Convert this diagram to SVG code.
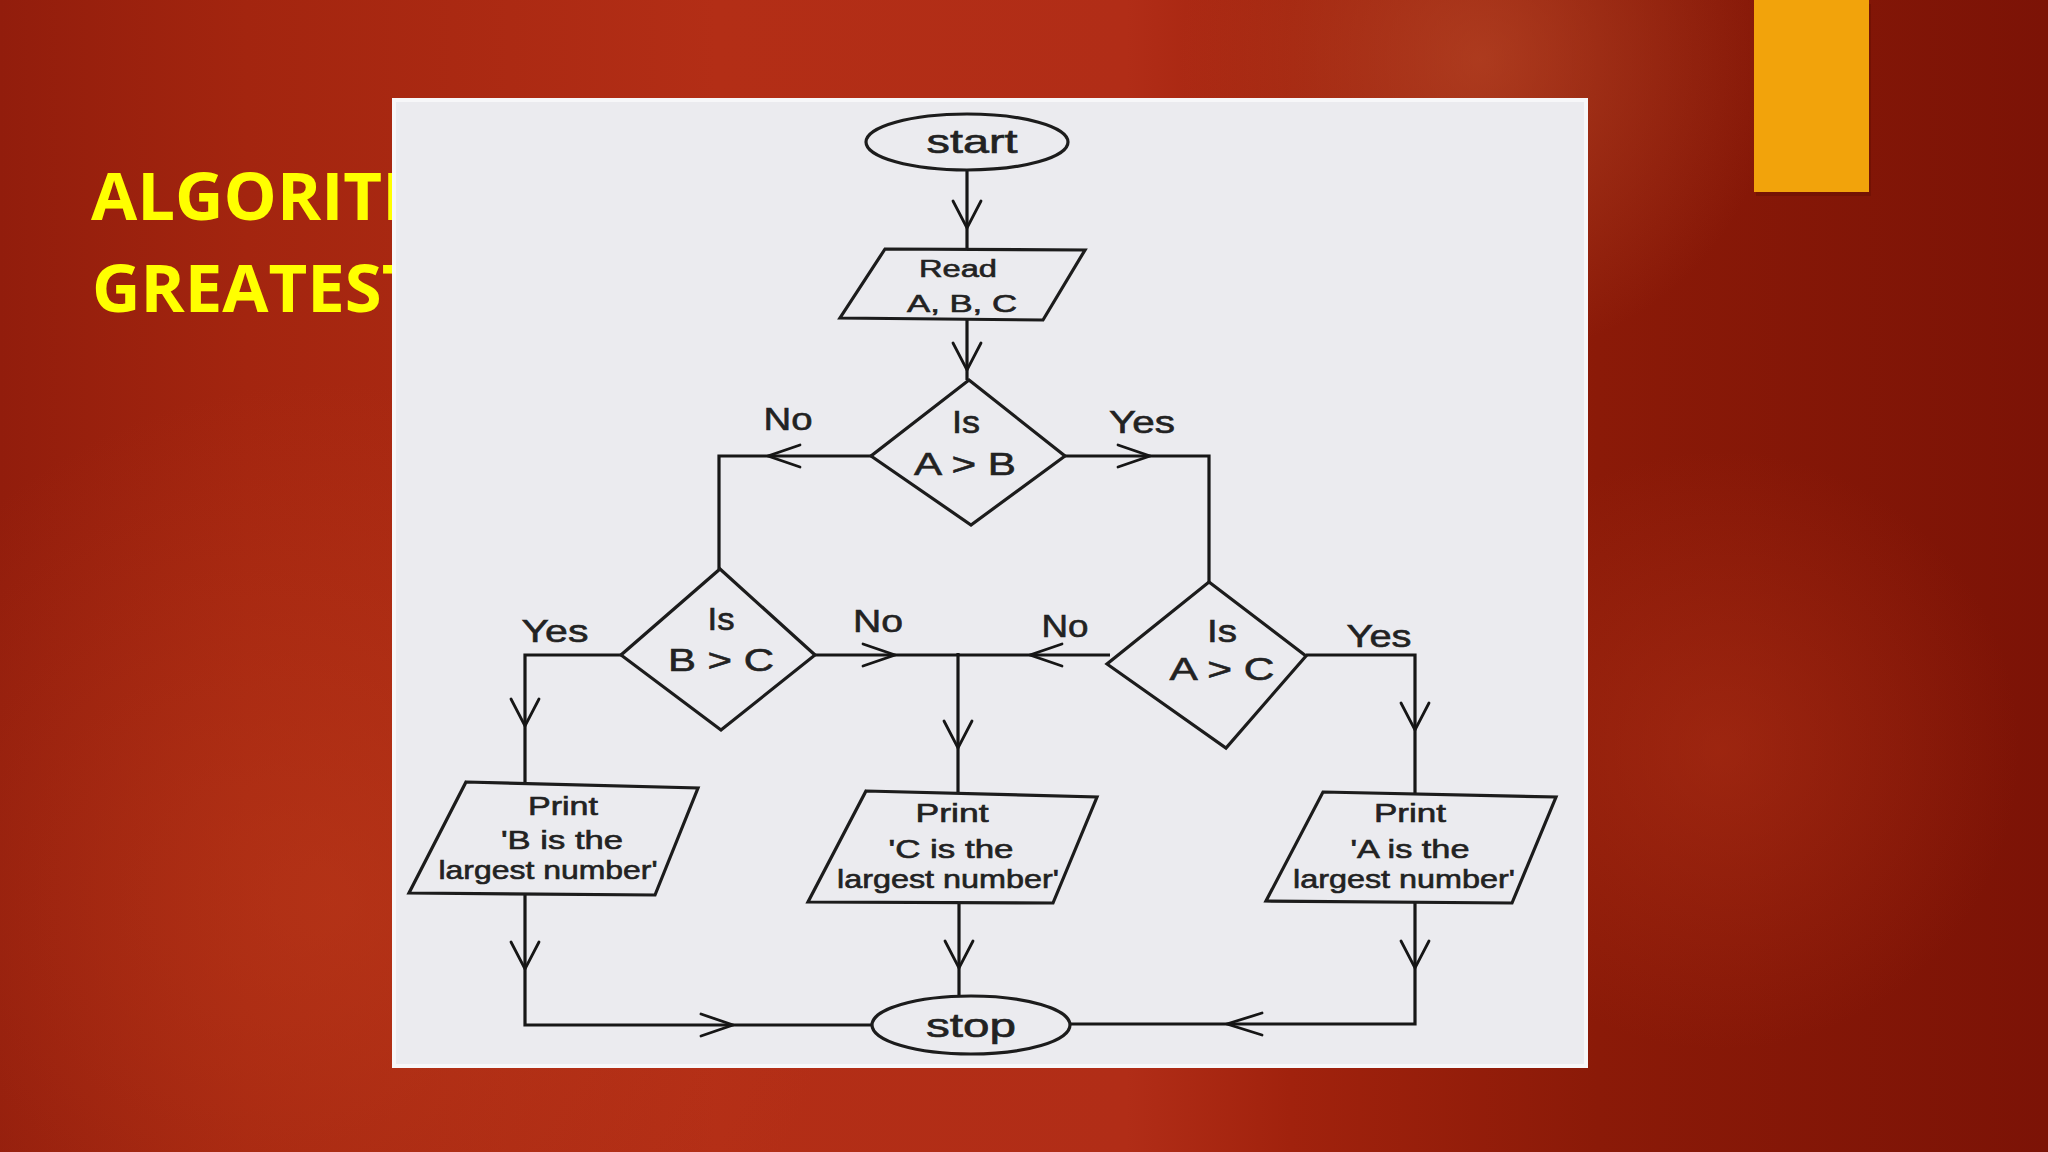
<svg xmlns="http://www.w3.org/2000/svg" width="2048" height="1152" viewBox="0 0 2048 1152">
  <defs>
    <linearGradient id="bg" x1="0" y1="0" x2="1" y2="0">
      <stop offset="0" stop-color="#921d0c"/>
      <stop offset="0.12" stop-color="#a3250f"/>
      <stop offset="0.35" stop-color="#b32e16"/>
      <stop offset="0.55" stop-color="#b12d17"/>
      <stop offset="0.63" stop-color="#a1220d"/>
      <stop offset="0.78" stop-color="#8b1a08"/>
      <stop offset="1" stop-color="#7c1306"/>
    </linearGradient>
    <radialGradient id="glow1" cx="1480" cy="60" r="300" gradientUnits="userSpaceOnUse">
      <stop offset="0" stop-color="#c2532f" stop-opacity="0.55"/>
      <stop offset="1" stop-color="#c2532f" stop-opacity="0"/>
    </radialGradient>
    <radialGradient id="glow2" cx="330" cy="900" r="520" gradientUnits="userSpaceOnUse">
      <stop offset="0" stop-color="#c4401e" stop-opacity="0.45"/>
      <stop offset="1" stop-color="#c4401e" stop-opacity="0"/>
    </radialGradient>
    <radialGradient id="glow3" cx="1720" cy="750" r="300" gradientUnits="userSpaceOnUse">
      <stop offset="0" stop-color="#b8361a" stop-opacity="0.45"/>
      <stop offset="1" stop-color="#b8361a" stop-opacity="0"/>
    </radialGradient>
    <style>
      .title { font-family: "Open Sans", "Noto Sans", sans-serif; font-weight: 700; font-size: 67px; fill: #ffff00; }
      .shape { fill: none; stroke: #1c1c1c; stroke-width: 3.2; stroke-linejoin: miter; }
      .line { fill: none; stroke: #161616; stroke-width: 3.2; }
      .chev { fill: none; stroke: #161616; stroke-width: 2.8; stroke-linecap: round; stroke-linejoin: miter; }
      .t { font-family: "Liberation Sans", Arial, sans-serif; fill: #222222; stroke: #222222; stroke-width: 0.6; text-anchor: middle; }
      .big { font-size: 33px; }
      .mid { font-size: 32px; }
      .sm { font-size: 25px; }
      .rd { font-size: 23px; }
    </style>
  </defs>

  <!-- background -->
  <rect x="0" y="0" width="2048" height="1152" fill="url(#bg)"/>
  <rect x="0" y="0" width="2048" height="1152" fill="url(#glow1)"/>
  <rect x="0" y="0" width="2048" height="1152" fill="url(#glow2)"/>
  <rect x="0" y="0" width="2048" height="1152" fill="url(#glow3)"/>

  <!-- accent bar -->
  <rect x="1756" y="4" width="115" height="192" fill="#5a0c02" opacity="0.35"/>
  <rect x="1754" y="0" width="115" height="192" fill="#f2a30b"/>

  <!-- title (partly covered by the picture) -->
  <g id="title">
    <text class="title" x="91" y="220">ALGORITHM</text>
    <text class="title" x="92" y="312">GREATEST</text>
  </g>

  <!-- picture panel -->
  <rect id="panel" x="394" y="100" width="1192" height="966" fill="#ebebef" stroke="#f7f7f9" stroke-width="4"/>

  <!-- connectors -->
  <g id="connectors">
    <path class="line" d="M967 170 V249"/>
    <path class="line" d="M967 319 V380"/>
    <path class="line" d="M871 456 H719 V569"/>
    <path class="line" d="M1065 456 H1209 V582"/>
    <path class="line" d="M621 655 H525 V783"/>
    <path class="line" d="M815 655 H1110"/>
    <path class="line" d="M958 653 V792"/>
    <path class="line" d="M1306 655 H1415 V793"/>
    <path class="line" d="M525 894 V1025 H873"/>
    <path class="line" d="M959 903 V996"/>
    <path class="line" d="M1415 902 V1024 H1069"/>

    <!-- arrowheads (open chevrons) -->
    <path class="chev" d="M953 201 L967 228 L981 201"/>
    <path class="chev" d="M953 343 L967 370 L981 343"/>
    <path class="chev" d="M800 445 L768 456 L800 467"/>
    <path class="chev" d="M1118 445 L1150 456 L1118 467"/>
    <path class="chev" d="M511 699 L525 726 L539 699"/>
    <path class="chev" d="M863 644 L895 655 L863 666"/>
    <path class="chev" d="M1062 644 L1030 655 L1062 666"/>
    <path class="chev" d="M944 721 L958 748 L972 721"/>
    <path class="chev" d="M1401 703 L1415 730 L1429 703"/>
    <path class="chev" d="M511 942 L525 969 L539 942"/>
    <path class="chev" d="M945 941 L959 968 L973 941"/>
    <path class="chev" d="M1401 941 L1415 968 L1429 941"/>
    <path class="chev" d="M701 1014 L733 1025 L701 1036"/>
    <path class="chev" d="M1262 1013 L1227 1024 L1262 1035"/>
  </g>

  <!-- nodes -->
  <g id="start">
    <ellipse class="shape" cx="967" cy="142" rx="101" ry="28"/>
    <text class="t big" x="972" y="153" textLength="91" lengthAdjust="spacingAndGlyphs">start</text>
  </g>

  <g id="read">
    <polygon class="shape" points="885,249 1085,250 1043,320 840,318"/>
    <text class="t rd" x="958" y="277" textLength="78" lengthAdjust="spacingAndGlyphs">Read</text>
    <text class="t rd" x="962" y="312" textLength="110" lengthAdjust="spacingAndGlyphs">A, B, C</text>
  </g>

  <g id="dec-ab">
    <polygon class="shape" points="969,380 1065,456 971,525 871,456"/>
    <text class="t mid" x="966" y="433" textLength="28" lengthAdjust="spacingAndGlyphs">Is</text>
    <text class="t mid" x="965" y="475" textLength="102" lengthAdjust="spacingAndGlyphs">A &gt; B</text>
  </g>
  <g id="lbl-ab">
    <text class="t mid" x="788" y="430" textLength="49" lengthAdjust="spacingAndGlyphs">No</text>
    <text class="t mid" x="1142" y="433" textLength="66" lengthAdjust="spacingAndGlyphs">Yes</text>
  </g>

  <g id="dec-bc">
    <polygon class="shape" points="720,569 815,655 721,730 621,655"/>
    <text class="t mid" x="721" y="630" textLength="27" lengthAdjust="spacingAndGlyphs">Is</text>
    <text class="t mid" x="721" y="671" textLength="106" lengthAdjust="spacingAndGlyphs">B &gt; C</text>
  </g>
  <g id="lbl-bc">
    <text class="t mid" x="555" y="642" textLength="67" lengthAdjust="spacingAndGlyphs">Yes</text>
    <text class="t mid" x="878" y="632" textLength="50" lengthAdjust="spacingAndGlyphs">No</text>
  </g>

  <g id="dec-ac">
    <polygon class="shape" points="1209,582 1306,656 1226,748 1107,664"/>
    <text class="t mid" x="1222" y="642" textLength="30" lengthAdjust="spacingAndGlyphs">Is</text>
    <text class="t mid" x="1222" y="680" textLength="105" lengthAdjust="spacingAndGlyphs">A &gt; C</text>
  </g>
  <g id="lbl-ac">
    <text class="t mid" x="1065" y="637" textLength="47" lengthAdjust="spacingAndGlyphs">No</text>
    <text class="t mid" x="1379" y="647" textLength="65" lengthAdjust="spacingAndGlyphs">Yes</text>
  </g>

  <g id="print-b">
    <polygon class="shape" points="466,782 698,788 655,895 409,893"/>
    <text class="t sm" x="563" y="815" textLength="70" lengthAdjust="spacingAndGlyphs">Print</text>
    <text class="t sm" x="562" y="849" textLength="122" lengthAdjust="spacingAndGlyphs">'B is the</text>
    <text class="t sm" x="548" y="879" textLength="219" lengthAdjust="spacingAndGlyphs">largest number'</text>
  </g>

  <g id="print-c">
    <polygon class="shape" points="866,791 1097,797 1053,903 808,902"/>
    <text class="t sm" x="952" y="822" textLength="73" lengthAdjust="spacingAndGlyphs">Print</text>
    <text class="t sm" x="951" y="858" textLength="125" lengthAdjust="spacingAndGlyphs">'C is the</text>
    <text class="t sm" x="948" y="888" textLength="222" lengthAdjust="spacingAndGlyphs">largest number'</text>
  </g>

  <g id="print-a">
    <polygon class="shape" points="1323,792 1556,797 1512,903 1266,901"/>
    <text class="t sm" x="1410" y="822" textLength="72" lengthAdjust="spacingAndGlyphs">Print</text>
    <text class="t sm" x="1410" y="858" textLength="119" lengthAdjust="spacingAndGlyphs">'A is the</text>
    <text class="t sm" x="1404" y="888" textLength="222" lengthAdjust="spacingAndGlyphs">largest number'</text>
  </g>

  <g id="stop">
    <ellipse class="shape" cx="971" cy="1025" rx="99" ry="29"/>
    <text class="t big" x="971" y="1037" textLength="90" lengthAdjust="spacingAndGlyphs">stop</text>
  </g>
</svg>
